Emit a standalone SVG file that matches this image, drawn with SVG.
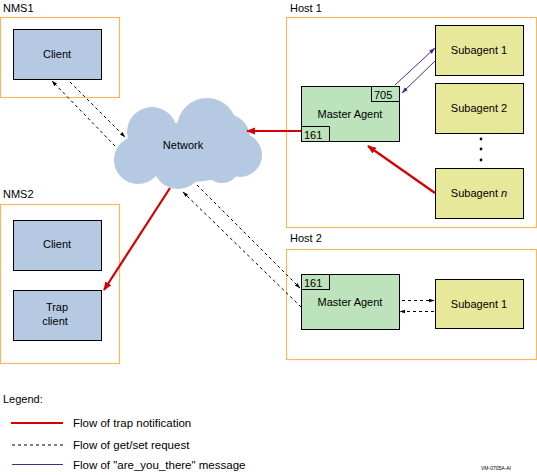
<svg xmlns="http://www.w3.org/2000/svg" width="537" height="475" viewBox="0 0 537 475">
<style>
text{font-family:"Liberation Sans",Arial,sans-serif;font-size:11px;fill:#000}
.c{text-anchor:middle}
.grp{fill:#fff;stroke:#f5b860;stroke-width:1.2}
.cl{fill:#b5cae2;stroke:#000;stroke-width:1}
.ma{fill:#bde3bd;stroke:#000;stroke-width:1}
.sa{fill:#e8e89a;stroke:#000;stroke-width:1}
.port{fill:none;stroke:#000;stroke-width:1}
.red{stroke:#d40000;stroke-width:2.2;fill:none}
.dash{stroke:#000;stroke-width:1;stroke-dasharray:3,3;fill:none}
.pur{stroke:#4b2a8c;stroke-width:1;fill:none}
.lg{font-size:11.5px}
</style>
<defs>
<marker id="ar" viewBox="0 0 10 10" refX="9" refY="5" markerWidth="4" markerHeight="4" orient="auto"><path d="M0,1 L10,5 L0,9 z" fill="#d40000"/></marker>
<marker id="ak" viewBox="0 0 10 10" refX="9" refY="5" markerWidth="6" markerHeight="6" orient="auto"><path d="M0,2 L10,5 L0,8 z" fill="#000"/></marker>
<marker id="ap" viewBox="0 0 10 10" refX="9" refY="5" markerWidth="7" markerHeight="7" orient="auto"><path d="M0,2 L10,5 L0,8 z" fill="#4b2a8c"/></marker>
</defs>
<rect width="537" height="475" fill="#fff"/>

<g id="nms1">
<text x="3" y="12">NMS1</text>
<rect class="grp" x="0.5" y="17.5" width="119" height="80"/>
<g id="nms1-client"><rect class="cl" x="13.5" y="29.5" width="88" height="50"/><text class="c" x="57" y="58">Client</text></g>
</g>

<g id="nms2">
<text x="3" y="198">NMS2</text>
<rect class="grp" x="0.5" y="204.5" width="119" height="159"/>
<g id="nms2-client"><rect class="cl" x="13.5" y="220.5" width="88" height="50"/><text class="c" x="57" y="248">Client</text></g>
<g id="trap-client"><rect class="cl" x="13.5" y="290.5" width="88" height="50"/><text class="c" x="57" y="311">Trap</text><text class="c" x="55" y="325">client</text></g>
</g>

<g id="network">
<g fill="#b5cae2">
<circle cx="152" cy="132" r="25"/>
<circle cx="207" cy="128" r="30"/>
<circle cx="226" cy="138" r="24"/>
<circle cx="240" cy="155" r="22"/>
<circle cx="138" cy="160" r="24"/>
<circle cx="178" cy="164" r="25"/>
<circle cx="222" cy="165" r="18"/>
<ellipse cx="190" cy="152" rx="58" ry="30"/>
</g>
<text class="c" x="183" y="149">Network</text>
</g>

<g id="host1">
<text x="290" y="12">Host 1</text>
<rect class="grp" x="286.5" y="17.5" width="250" height="210"/>
<g id="host1-master"><rect class="ma" x="301.5" y="86.5" width="98" height="55"/>
<rect class="port" x="371.5" y="86.5" width="28" height="15"/><text x="374" y="99">705</text>
<path class="port" d="M301.5,126.5 H329.5 V142"/><text x="304" y="139">161</text>
<text class="c" x="350" y="118">Master Agent</text></g>
<g id="host1-sub1"><rect class="sa" x="435.5" y="25.5" width="88" height="50"/><text class="c" x="479" y="54">Subagent 1</text></g>
<g id="host1-sub2"><rect class="sa" x="435.5" y="83.5" width="88" height="50"/><text class="c" x="479" y="112">Subagent 2</text></g>
<g id="host1-dots" fill="#000"><circle cx="481" cy="139" r="1.4"/><circle cx="481" cy="149" r="1.4"/><circle cx="481" cy="160" r="1.4"/></g>
<g id="host1-subn"><rect class="sa" x="435.5" y="168.5" width="88" height="50"/><text class="c" x="479" y="197">Subagent <tspan font-style="italic">n</tspan></text></g>
</g>

<g id="host2">
<text x="290" y="242">Host 2</text>
<rect class="grp" x="286.5" y="249.5" width="250" height="110"/>
<g id="host2-master"><rect class="ma" x="301.5" y="274.5" width="98" height="55"/>
<rect class="port" x="301.5" y="274.5" width="28" height="15"/><text x="304" y="287">161</text>
<text class="c" x="350" y="306">Master Agent</text></g>
<g id="host2-sub1"><rect class="sa" x="435.5" y="279.5" width="88" height="49"/><text class="c" x="479" y="308">Subagent 1</text></g>
</g>

<g id="connectors">
<line class="dash" x1="115" y1="146" x2="52" y2="81" marker-end="url(#ak)"/>
<line class="dash" x1="70" y1="82" x2="125" y2="137" marker-end="url(#ak)"/>
<line class="red" x1="301" y1="131" x2="247" y2="131" marker-end="url(#ar)"/>
<line class="red" x1="435" y1="193" x2="368" y2="146" marker-end="url(#ar)"/>
<line class="pur" x1="395" y1="85" x2="435" y2="48" marker-end="url(#ap)"/>
<line class="pur" x1="435" y1="61" x2="402" y2="93" marker-end="url(#ap)"/>
<line class="red" x1="170" y1="188" x2="104" y2="290" marker-end="url(#ar)"/>
<line class="dash" x1="301" y1="307" x2="183" y2="192" marker-end="url(#ak)"/>
<line class="dash" x1="197" y1="185" x2="300" y2="288" marker-end="url(#ak)"/>
<line class="dash" x1="402" y1="300.5" x2="434" y2="300.5" marker-end="url(#ak)"/>
<line class="dash" x1="434" y1="311.5" x2="400" y2="311.5" marker-end="url(#ak)"/>
</g>

<g id="legend">
<text x="3" y="403">Legend:</text>
<line x1="11" y1="423" x2="63" y2="423" stroke="#d40000" stroke-width="2"/>
<text class="lg" x="73" y="427">Flow of trap notification</text>
<line x1="12" y1="445" x2="63" y2="445" stroke="#000" stroke-width="1" stroke-dasharray="3,3"/>
<text class="lg" x="73" y="449">Flow of get/set request</text>
<line x1="12" y1="464.5" x2="63" y2="464.5" stroke="#4b2a8c" stroke-width="1"/>
<text class="lg" x="73" y="469">Flow of "are_you_there" message</text>
<text x="481" y="470" style="font-size:5px">VM-0705A-AI</text>
</g>
</svg>
